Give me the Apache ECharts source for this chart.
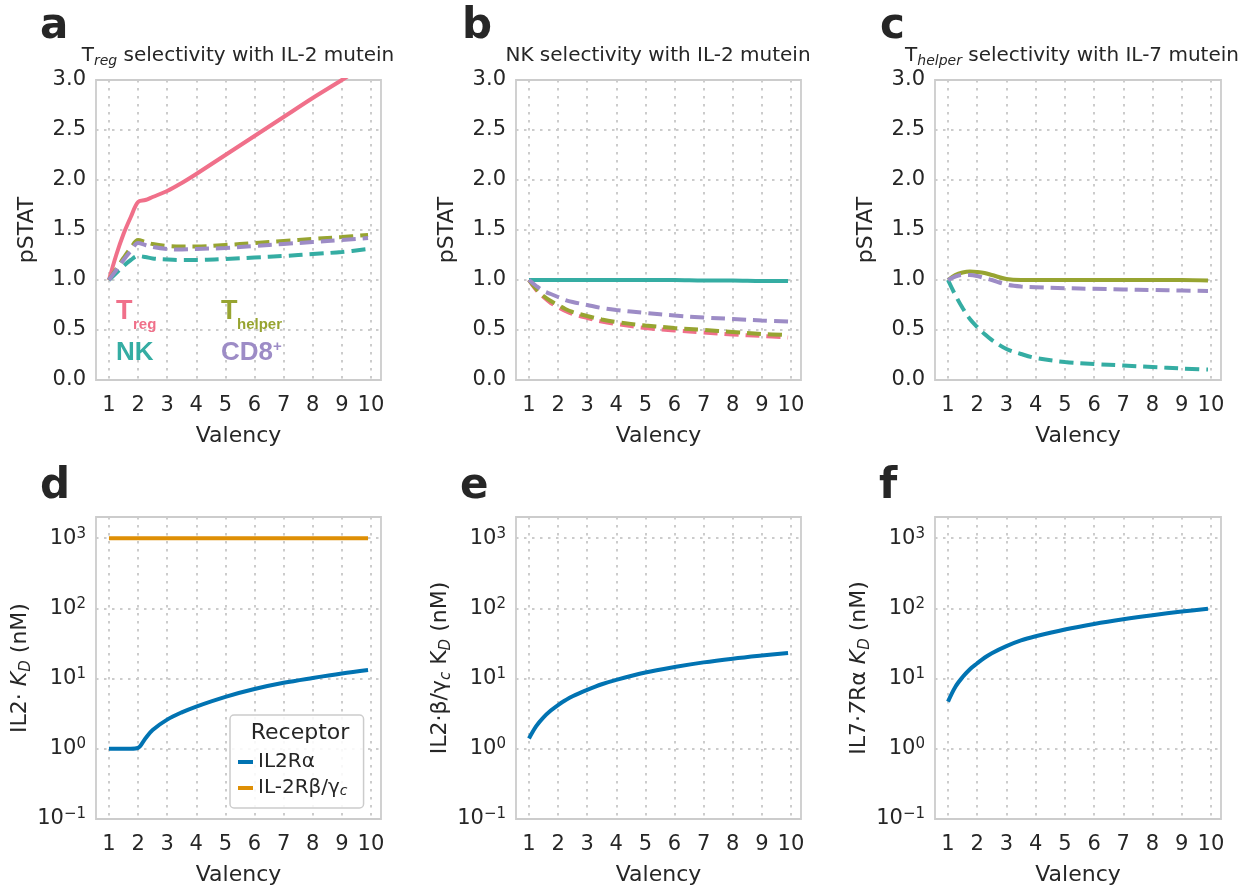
<!DOCTYPE html>
<html lang="en">
<head>
<meta charset="UTF-8">
<title>Valency selectivity</title>
<script src="https://cdn.jsdelivr.net/npm/echarts@6.0.0/dist/echarts.min.js"></script>
<style>
  html, body { margin: 0; background: #fff; }
  #container { width: 1257px; height: 888px; }
</style>
</head>
<body>
<div id="container"></div>
<script>
// shared x samples (valency) for every curve
var valency = [1, 1.25, 1.5, 1.75, 2, 2.25, 2.5, 3, 3.5, 4, 5, 6, 7, 8, 9, 9.9];
var tickValues = [1, 2, 3, 4, 5, 6, 7, 8, 9, 10];

// a: Treg selectivity with IL-2 mutein
var tregA    = [1.0, 1.25, 1.46, 1.63, 1.78, 1.80, 1.83, 1.89, 1.97, 2.06, 2.25, 2.44, 2.63, 2.82, 3.0, 3.17];
var thelperA = [1.0, 1.11, 1.22, 1.32, 1.40, 1.38, 1.36, 1.34, 1.335, 1.335, 1.35, 1.37, 1.39, 1.41, 1.43, 1.45];
var nkA      = [1.0, 1.07, 1.14, 1.20, 1.24, 1.23, 1.215, 1.205, 1.20, 1.20, 1.21, 1.225, 1.24, 1.26, 1.28, 1.31];
var cd8A     = [1.0, 1.10, 1.20, 1.29, 1.37, 1.35, 1.33, 1.31, 1.305, 1.31, 1.32, 1.34, 1.36, 1.38, 1.40, 1.42];

// b: NK selectivity with IL-2 mutein
var tregB    = [1.0, 0.90, 0.83, 0.77, 0.73, 0.69, 0.66, 0.62, 0.585, 0.56, 0.52, 0.495, 0.475, 0.455, 0.44, 0.425];
var thelperB = [1.0, 0.91, 0.84, 0.79, 0.75, 0.71, 0.68, 0.64, 0.605, 0.58, 0.545, 0.52, 0.50, 0.48, 0.46, 0.45];
var nkB      = [1.0, 1.0, 1.0, 1.0, 1.0, 1.0, 1.0, 1.0, 1.0, 1.0, 1.0, 1.0, 0.995, 0.995, 0.99, 0.99];
var cd8B     = [1.0, 0.94, 0.89, 0.86, 0.83, 0.80, 0.78, 0.75, 0.72, 0.70, 0.67, 0.645, 0.625, 0.61, 0.595, 0.585];

// c: Thelper selectivity with IL-7 mutein
var thelperC = [1.0, 1.05, 1.075, 1.085, 1.08, 1.07, 1.05, 1.01, 1.0, 1.0, 1.0, 1.0, 1.0, 1.0, 1.0, 0.995];
var nkC      = [1.0, 0.85, 0.72, 0.61, 0.53, 0.46, 0.40, 0.31, 0.26, 0.22, 0.18, 0.16, 0.145, 0.13, 0.115, 0.105];
var cd8C     = [1.0, 1.035, 1.05, 1.05, 1.04, 1.02, 1.0, 0.955, 0.935, 0.928, 0.918, 0.912, 0.906, 0.90, 0.895, 0.89];

// d-f: affinities (nM)
var il2raD = [1, 1, 1, 1, 1.03, 1.4, 1.85, 2.6, 3.3, 4.0, 5.5, 7.1, 8.7, 10.2, 11.8, 13.2];
var il2rbD = [1000, 1000, 1000, 1000, 1000, 1000, 1000, 1000, 1000, 1000, 1000, 1000, 1000, 1000, 1000, 1000];
var il2rbE = [1.4, 2.1, 2.8, 3.5, 4.2, 4.9, 5.6, 6.9, 8.3, 9.6, 12.2, 14.6, 17.0, 19.2, 21.3, 23.2];
var il7raF = [4.7, 7.6, 10.5, 13.6, 16.5, 19.8, 23, 29, 35, 40, 50, 60, 70, 80, 90, 99];

var FONT = 'DejaVu Sans';
var TEXT = '#262626';
var GRID_C = '#cccccc';
var C_TREG = '#f0708a', C_THELP = '#97a431', C_NK = '#35ada3', C_CD8 = '#9d8cc6';
var C_BLUE = '#0173b2', C_ORANGE = '#de8f05';

var myChart = echarts.init(document.getElementById('container'));

function pairs(ys) {
    return valency.map(function (x, i) { return [x, ys[i]]; });
}

function line(name, ys, color, dashed, idx) {
    return {
        name: name, type: 'line', xAxisIndex: idx, yAxisIndex: idx,
        data: pairs(ys),
        showSymbol: false, symbol: 'none',
        smooth: 0.35,
        lineStyle: { color: color, width: 4, type: dashed ? [14, 7] : 'solid' },
        itemStyle: { color: color },
        emphasis: { disabled: true },
        silent: true
    };
}

var gridPos = [
    { left: 96,  top: 80,  width: 285, height: 300 },
    { left: 516, top: 80,  width: 285, height: 300 },
    { left: 935, top: 80,  width: 286, height: 300 },
    { left: 96,  top: 517, width: 285, height: 302 },
    { left: 516, top: 517, width: 285, height: 302 },
    { left: 935, top: 517, width: 286, height: 302 }
];

var dotted = { show: true, lineStyle: { color: GRID_C, width: 2, type: [2.5, 5.5] } };

function xAxis(i) {
    return {
        type: 'value', gridIndex: i, min: 0.555, max: 10.345,
        name: 'Valency', nameLocation: 'middle', nameGap: 45,
        nameTextStyle: { fontSize: 22, color: TEXT, fontFamily: FONT },
        axisLine: { show: false },
        axisTick: { show: false, customValues: tickValues },
        axisLabel: { customValues: tickValues, fontSize: 21, color: TEXT, fontFamily: FONT, margin: 15 },
        splitLine: dotted
    };
}

function pstatAxis(i) {
    return {
        type: 'value', gridIndex: i, min: 0, max: 3, interval: 0.5,
        name: 'pSTAT', nameLocation: 'middle', nameGap: 58,
        nameTextStyle: { fontSize: 22, color: TEXT, fontFamily: FONT },
        axisLine: { show: false }, axisTick: { show: false },
        axisLabel: { fontSize: 21, color: TEXT, fontFamily: FONT, margin: 10,
            formatter: function (v) { return v.toFixed(1); } },
        splitLine: dotted
    };
}

function powerLabel(v) {
    var e = Math.round(Math.log10(v));
    if (Math.abs(v / Math.pow(10, e) - 1) > 1e-6) return '';
    return '{b|10}{sup|' + (e < 0 ? '\u2212' + (-e) : e) + '}';
}

var nameRich = {
    n: { fontSize: 22, fontFamily: FONT, color: TEXT, lineHeight: 26 },
    i: { fontSize: 22, fontFamily: FONT, color: TEXT, fontStyle: 'italic', lineHeight: 26 },
    d: { fontSize: 15, fontFamily: FONT, color: TEXT, fontStyle: 'italic', lineHeight: 10, verticalAlign: 'bottom' }
};

function kdAxis(i, label, gap) {
    return {
        type: 'log', logBase: 10, gridIndex: i, min: 0.1, max: 2000,
        name: label, nameLocation: 'middle', nameGap: gap,
        nameTextStyle: { rich: nameRich },
        axisLine: { show: false }, axisTick: { show: false },
        axisLabel: {
            margin: 10, formatter: powerLabel,
            rich: {
                b: { fontSize: 21, fontFamily: FONT, color: TEXT, lineHeight: 24 },
                sup: { fontSize: 15, fontFamily: FONT, color: TEXT, lineHeight: 12, verticalAlign: 'top' }
            }
        },
        splitLine: dotted
    };
}

function txt(x, y, text, size, color, extra) {
    var style = { text: text, fontSize: size, fontFamily: FONT, fill: color || TEXT,
        align: 'left', verticalAlign: 'middle' };
    for (var k in extra) style[k] = extra[k];
    return { type: 'text', x: x, y: y, z: 100, style: style, silent: true };
}

var titleRich = {
    n: { fontSize: 20, fontFamily: FONT, fill: TEXT, lineHeight: 24 },
    s: { fontSize: 14, fontFamily: FONT, fill: TEXT, fontStyle: 'italic', lineHeight: 10, verticalAlign: 'bottom' }
};

var LAB = 'Liberation Sans';
var graphics = [
    txt(40, 27, 'a', 42, TEXT, { fontWeight: 'bold' }),
    txt(462, 27, 'b', 42, TEXT, { fontWeight: 'bold' }),
    txt(880, 27, 'c', 42, TEXT, { fontWeight: 'bold' }),
    txt(40, 487, 'd', 42, TEXT, { fontWeight: 'bold' }),
    txt(460, 487, 'e', 42, TEXT, { fontWeight: 'bold' }),
    txt(879, 487, 'f', 42, TEXT, { fontWeight: 'bold' }),
    txt(238, 56, '{n|T}{s|reg}{n| selectivity with IL-2 mutein}', 20, TEXT, { align: 'center', rich: titleRich }),
    txt(658, 56, '{n|NK selectivity with IL-2 mutein}', 20, TEXT, { align: 'center', rich: titleRich }),
    txt(1072, 56, '{n|T}{s|helper}{n| selectivity with IL-7 mutein}', 20, TEXT, { align: 'center', rich: titleRich }),
    // in-plot labels for panel a
    txt(116, 312, 'T', 27, C_TREG, { fontFamily: LAB, fontWeight: 'bold' }),
    txt(133, 325, 'reg', 15, C_TREG, { fontFamily: LAB, fontWeight: 'bold' }),
    txt(221, 312, 'T', 27, C_THELP, { fontFamily: LAB, fontWeight: 'bold' }),
    txt(237, 325, 'helper', 15, C_THELP, { fontFamily: LAB, fontWeight: 'bold' }),
    txt(116, 353, 'NK', 26, C_NK, { fontFamily: LAB, fontWeight: 'bold' }),
    txt(221, 353, 'CD8', 26, C_CD8, { fontFamily: LAB, fontWeight: 'bold' }),
    txt(273, 347, '+', 15, C_CD8, { fontFamily: LAB, fontWeight: 'bold' }),
    // legend title for panel d
    txt(300, 733, 'Receptor', 22, TEXT, { align: 'center' })
];

var option = {
    animation: false,
    backgroundColor: '#ffffff',
    grid: gridPos.map(function (p) {
        return { left: p.left, top: p.top, width: p.width, height: p.height,
            show: true, borderColor: GRID_C, borderWidth: 1.8, backgroundColor: 'transparent',
            containLabel: false, outerBoundsMode: 'none' };
    }),
    xAxis: [0, 1, 2, 3, 4, 5].map(xAxis),
    yAxis: [
        pstatAxis(0), pstatAxis(1), pstatAxis(2),
        kdAxis(3, '{n|IL2\u00b7 }{i|K}{d|D}{n| (nM)}', 59),
        kdAxis(4, '{n|IL2\u00b7\u03b2/\u03b3}{d|c}{n| K}{d|D}{n| (nM)}', 62),
        kdAxis(5, '{n|IL7\u00b7}{i|7}{n|R\u03b1 }{i|K}{d|D}{n| (nM)}', 59)
    ],
    legend: {
        data: ['IL2R\u03b1', 'IL-2R\u03b2/\u03b3c'],
        left: 230, top: 715, orient: 'vertical',
        padding: [37, 16, 10, 8], itemGap: 6,
        icon: 'rect', itemWidth: 15, itemHeight: 4,
        borderColor: GRID_C, borderWidth: 1.5, borderRadius: 4,
        backgroundColor: 'rgba(255,255,255,0.85)',
        selectedMode: false,
        formatter: function (name) {
            return name === 'IL-2R\u03b2/\u03b3c' ? '{n|IL-2R\u03b2/\u03b3}{s|c}' : '{n|' + name + '}';
        },
        textStyle: {
            rich: {
                n: { fontSize: 20, fontFamily: FONT, color: TEXT, lineHeight: 20 },
                s: { fontSize: 14, fontFamily: FONT, color: TEXT, fontStyle: 'italic', lineHeight: 6, verticalAlign: 'bottom' }
            }
        }
    },
    graphic: graphics,
    series: [
        line('Treg a', tregA, C_TREG, false, 0),
        line('Thelper a', thelperA, C_THELP, true, 0),
        line('NK a', nkA, C_NK, true, 0),
        line('CD8 a', cd8A, C_CD8, true, 0),

        line('Treg b', tregB, C_TREG, true, 1),
        line('Thelper b', thelperB, C_THELP, true, 1),
        line('NK b', nkB, C_NK, false, 1),
        line('CD8 b', cd8B, C_CD8, true, 1),

        line('Thelper c', thelperC, C_THELP, false, 2),
        line('NK c', nkC, C_NK, true, 2),
        line('CD8 c', cd8C, C_CD8, true, 2),

        line('IL2R\u03b1', il2raD, C_BLUE, false, 3),
        line('IL-2R\u03b2/\u03b3c', il2rbD, C_ORANGE, false, 3),
        line('IL2\u00b7\u03b2/\u03b3c', il2rbE, C_BLUE, false, 4),
        line('IL7\u00b77R\u03b1', il7raF, C_BLUE, false, 5)
    ]
};

myChart.setOption(option);
</script>
</body>
</html>
